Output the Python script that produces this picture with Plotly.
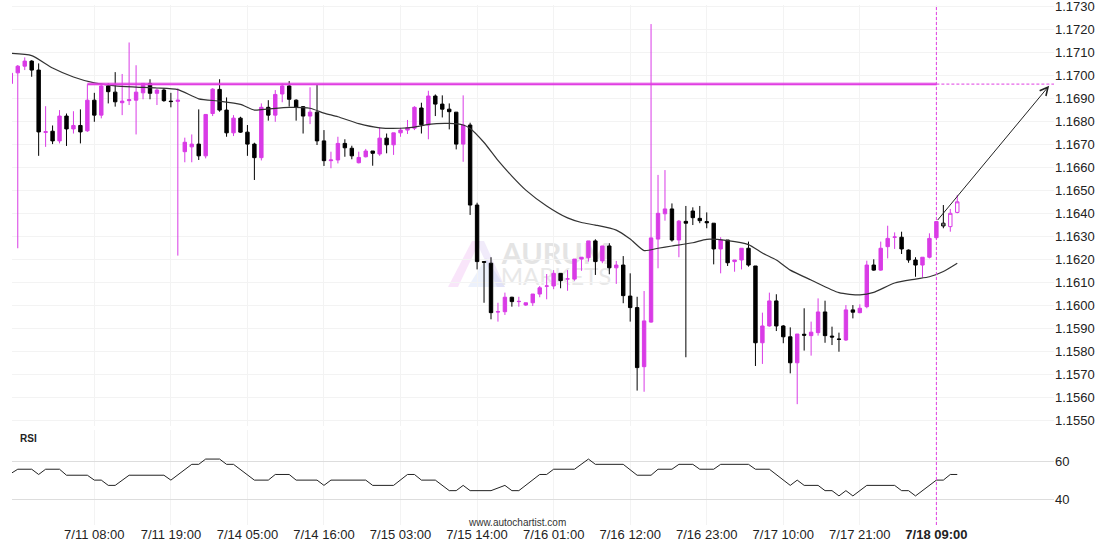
import plotly.graph_objects as go
from plotly.subplots import make_subplots

# ---------------- data ----------------
opens = [
    1.16965, 1.17011, 1.17040, 1.17062, 1.17023, 1.16752, 1.16757, 1.16715, 1.16823, 1.16767,
    1.16782, 1.16759, 1.16892, 1.16827, 1.16954, 1.16927, 1.16881, 1.16890, 1.16892, 1.16924,
    1.16965, 1.16922, 1.16936, 1.16888, 1.16887, 1.16668, 1.16689, 1.16701, 1.16650, 1.16834,
    1.16939, 1.16849, 1.16750, 1.16814, 1.16753, 1.16701, 1.16642, 1.16861, 1.16827, 1.16919,
    1.16954, 1.16892, 1.16864, 1.16823, 1.16840, 1.16715, 1.16629, 1.16632, 1.16704, 1.16683,
    1.16620, 1.16646, 1.16671, 1.16658, 1.16727, 1.16698, 1.16750, 1.16762, 1.16770, 1.16858,
    1.16784, 1.16910, 1.16875, 1.16853, 1.16840, 1.16701, 1.16784, 1.16436, 1.16190, 1.16183,
    1.15971, 1.15972, 1.16035, 1.16016, 1.16001, 1.16011, 1.16049, 1.16083, 1.16084, 1.16139,
    1.16114, 1.16114, 1.16201, 1.16207, 1.16280, 1.16193, 1.16258, 1.16163, 1.16175, 1.16040,
    1.15990, 1.15733, 1.15927, 1.16288, 1.16398, 1.16419, 1.16284, 1.16365, 1.16410, 1.16378,
    1.16364, 1.16357, 1.16245, 1.16284, 1.16190, 1.16197, 1.16248, 1.16171, 1.15837, 1.15910,
    1.16019, 1.15910, 1.15863, 1.15750, 1.15874, 1.15868, 1.15881, 1.15971, 1.15866, 1.15853,
    1.15849, 1.15980, 1.15968, 1.15994, 1.16175, 1.16153, 1.16255, 1.16296, 1.16296, 1.16240,
    1.16197, 1.16175, 1.16209, 1.16294, 1.16357, 1.16342, 1.16404,
]
highs = [
    1.17010, 1.17045, 1.17078, 1.17066, 1.17052, 1.16866, 1.16782, 1.16849, 1.16834, 1.16844,
    1.16852, 1.16961, 1.16924, 1.16965, 1.16965, 1.17014, 1.17006, 1.17143, 1.17044, 1.16965,
    1.16983, 1.16944, 1.16944, 1.16924, 1.16944, 1.16729, 1.16743, 1.16852, 1.16830, 1.16944,
    1.16983, 1.16904, 1.16827, 1.16820, 1.16784, 1.16707, 1.16878, 1.16892, 1.16936, 1.16965,
    1.16975, 1.16896, 1.16866, 1.16948, 1.16958, 1.16762, 1.16668, 1.16733, 1.16722, 1.16694,
    1.16668, 1.16680, 1.16671, 1.16774, 1.16747, 1.16750, 1.16772, 1.16806, 1.16866, 1.16881,
    1.16933, 1.16917, 1.16913, 1.16878, 1.16840, 1.16913, 1.16794, 1.16446, 1.16190, 1.16209,
    1.16011, 1.16055, 1.16037, 1.16037, 1.16011, 1.16049, 1.16084, 1.16136, 1.16153, 1.16139,
    1.16153, 1.16201, 1.16209, 1.16280, 1.16287, 1.16258, 1.16270, 1.16193, 1.16214, 1.16139,
    1.16037, 1.16062, 1.17223, 1.16567, 1.16588, 1.16443, 1.16371, 1.16432, 1.16426, 1.16432,
    1.16404, 1.16357, 1.16296, 1.16284, 1.16197, 1.16248, 1.16277, 1.16171, 1.15968, 1.16055,
    1.16048, 1.15914, 1.15904, 1.15875, 1.15987, 1.15929, 1.16030, 1.16020, 1.15907, 1.15881,
    1.16001, 1.16001, 1.16004, 1.16194, 1.16200, 1.16277, 1.16346, 1.16317, 1.16320, 1.16243,
    1.16209, 1.16209, 1.16313, 1.16364, 1.16436, 1.16419, 1.16480,
]
lows = [
    1.16962, 1.16248, 1.17023, 1.16994, 1.16650, 1.16689, 1.16701, 1.16704, 1.16693, 1.16747,
    1.16704, 1.16754, 1.16798, 1.16813, 1.16878, 1.16864, 1.16827, 1.16871, 1.16743, 1.16896,
    1.16896, 1.16871, 1.16885, 1.16861, 1.16216, 1.16622, 1.16622, 1.16632, 1.16639, 1.16823,
    1.16842, 1.16733, 1.16736, 1.16750, 1.16650, 1.16545, 1.16630, 1.16803, 1.16798, 1.16883,
    1.16864, 1.16803, 1.16747, 1.16788, 1.16697, 1.16606, 1.16596, 1.16617, 1.16646, 1.16635,
    1.16617, 1.16643, 1.16607, 1.16650, 1.16661, 1.16654, 1.16733, 1.16745, 1.16762, 1.16747,
    1.16722, 1.16823, 1.16817, 1.16765, 1.16678, 1.16624, 1.16393, 1.16156, 1.16011, 1.15939,
    1.15929, 1.15958, 1.15994, 1.15994, 1.15997, 1.15997, 1.16035, 1.16026, 1.16070, 1.16074,
    1.16063, 1.16107, 1.16150, 1.16190, 1.16132, 1.16183, 1.16135, 1.16093, 1.16009, 1.15929,
    1.15629, 1.15624, 1.15924, 1.16161, 1.16368, 1.16277, 1.16209, 1.15774, 1.16349, 1.16357,
    1.16335, 1.16178, 1.16139, 1.16171, 1.16146, 1.16156, 1.16168, 1.15736, 1.15745, 1.15907,
    1.15888, 1.15835, 1.15704, 1.15570, 1.15803, 1.15781, 1.15868, 1.15837, 1.15827, 1.15798,
    1.15845, 1.15943, 1.15965, 1.15987, 1.16150, 1.16150, 1.16204, 1.16245, 1.16223, 1.16185,
    1.16124, 1.16121, 1.16204, 1.16287, 1.16335, 1.16320, 1.16400,
]
closes = [
    1.17009, 1.17040, 1.17062, 1.17023, 1.16754, 1.16755, 1.16715, 1.16823, 1.16767, 1.16782,
    1.16754, 1.16892, 1.16827, 1.16954, 1.16929, 1.16885, 1.16888, 1.16894, 1.16927, 1.16965,
    1.16922, 1.16936, 1.16890, 1.16886, 1.16892, 1.16709, 1.16701, 1.16650, 1.16830, 1.16940,
    1.16849, 1.16750, 1.16814, 1.16753, 1.16701, 1.16642, 1.16861, 1.16827, 1.16917, 1.16954,
    1.16896, 1.16861, 1.16823, 1.16840, 1.16715, 1.16629, 1.16632, 1.16704, 1.16685, 1.16650,
    1.16643, 1.16671, 1.16661, 1.16727, 1.16698, 1.16750, 1.16762, 1.16772, 1.16861, 1.16785,
    1.16910, 1.16875, 1.16853, 1.16842, 1.16701, 1.16784, 1.16436, 1.16190, 1.16187, 1.15968,
    1.15972, 1.16035, 1.16016, 1.16017, 1.16011, 1.16049, 1.16076, 1.16084, 1.16139, 1.16107,
    1.16115, 1.16201, 1.16209, 1.16280, 1.16190, 1.16258, 1.16163, 1.16175, 1.16042, 1.15990,
    1.15729, 1.15932, 1.16293, 1.16400, 1.16419, 1.16284, 1.16366, 1.16357, 1.16381, 1.16368,
    1.16359, 1.16245, 1.16284, 1.16185, 1.16197, 1.16248, 1.16175, 1.15837, 1.15910, 1.16019,
    1.15910, 1.15863, 1.15750, 1.15875, 1.15870, 1.15883, 1.15971, 1.15868, 1.15862, 1.15852,
    1.15980, 1.15970, 1.15987, 1.16175, 1.16153, 1.16248, 1.16291, 1.16297, 1.16245, 1.16197,
    1.16175, 1.16209, 1.16291, 1.16364, 1.16345, 1.16400, 1.16450,
]

# moving average, read at selected candles
ma_idx = [0, 3, 6, 9, 12, 15, 18, 21, 24, 27, 30, 33, 35, 37, 40, 43, 45, 47, 50, 53,
          56, 58, 60, 63, 65, 66, 68, 70, 72, 74, 77, 80, 82, 84, 87, 89, 91, 93, 95, 98,
          100, 103, 106, 108, 110, 112, 115, 119, 122, 124, 127, 130, 132, 134, 136]
ma_val = [1.17096, 1.17086, 1.17032, 1.16993, 1.16967, 1.16954, 1.16949, 1.16945, 1.16938, 1.16898,
          1.16888, 1.16874, 1.16849, 1.16854, 1.16861, 1.16857, 1.16836, 1.16820, 1.16790, 1.16772,
          1.16770, 1.16775, 1.16787, 1.16791, 1.16784, 1.16769, 1.16708, 1.16630, 1.16562, 1.16501,
          1.16432, 1.16380, 1.16360, 1.16349, 1.16327, 1.16288, 1.16238, 1.16248, 1.16258, 1.16272,
          1.16287, 1.16281, 1.16264, 1.16227, 1.16197, 1.16153, 1.16110, 1.16055, 1.16045, 1.16056,
          1.16097, 1.16114, 1.16124, 1.16147, 1.16183]

# RSI, read at selected candles
rsi_idx = [0, 1, 3, 4, 5, 7, 8, 11, 12, 13, 14, 15, 17, 22, 23, 26, 27, 28, 30, 31,
           32, 35, 37, 38, 40, 41, 44, 45, 46, 51, 52, 55, 57, 58, 59, 61, 63, 64, 65, 66,
           69, 71, 72, 73, 76, 77, 78, 81, 83, 84, 88, 90, 92, 93, 95, 96, 98, 99, 101, 102,
           106, 107, 109, 112, 113, 114, 116, 117, 118, 119, 120, 121, 123, 127, 128, 129, 130,
           133, 134, 135, 136]
rsi_val = [53.7, 56, 56, 53.2, 56, 56, 52.8, 52.8, 50.2, 50.2, 47.4, 47.4, 52.8, 52.8, 50.2,
           58.6, 58.6, 61.4, 61.4, 58.6, 58.6, 50.2, 50.2, 53.2, 53.2, 50.2, 50.2, 47.4, 50.2,
           50.2, 47.4, 47.4, 53.2, 53.2, 50.2, 50.2, 44.6, 44.6, 47.4, 44.6, 44.6, 47.4, 44.6,
           44.6, 53.2, 53.2, 56, 56, 61.4, 58.6, 58.6, 52.8, 52.8, 56, 56, 58.6, 58.6, 56, 56,
           58.6, 58.6, 56, 56, 47.4, 50.2, 47.4, 47.4, 44.6, 44.6, 41.8, 44.6, 41.8, 47.4, 47.4,
           44.6, 44.6, 41.8, 50.2, 50.2, 53.2, 53.2]

tick_idx = [12, 23, 34, 45, 56, 67, 78, 89, 100, 111, 122, 133]
tick_labels = ["7/11 08:00", "7/11 19:00", "7/14 05:00", "7/14 16:00", "7/15 03:00",
               "7/15 14:00", "7/16 01:00", "7/16 12:00", "7/16 23:00", "7/17 10:00",
               "7/17 21:00", "<b>7/18 09:00</b>"]
price_ticks = [round(1.1550 + 0.001 * i, 4) for i in range(19)]
rsi_ticks = [40, 60]

level_price = 1.16962      # resistance level
level_start = 11           # first touching candle
pattern_end = 133          # candle where the pattern was identified
target_idx = 149.2
target_price = 1.16955

# ---------------- figure ----------------
BULL = "#d93be6"
BEAR = "#000000"
LEVEL = "#e03ee2"

W, H = 1110, 550
ML, MR, MT, MB = 12, 56, 5, 25
PW, PH = W - ML - MR, H - MT - MB

def px_x(p):
    return (p - ML) / PW

def px_y(p):
    return (H - MB - p) / PH

idx = list(range(len(opens)))
n_solid = pattern_end + 1

fig = make_subplots(rows=2, cols=1, shared_xaxes=True, vertical_spacing=0.01)

fig.add_trace(go.Candlestick(
    x=idx[:n_solid], open=opens[:n_solid], high=highs[:n_solid],
    low=lows[:n_solid], close=closes[:n_solid],
    increasing=dict(line=dict(color=BULL, width=1), fillcolor=BULL),
    decreasing=dict(line=dict(color=BEAR, width=1), fillcolor=BEAR),
    whiskerwidth=0, showlegend=False, hoverinfo="skip"), row=1, col=1)

fig.add_trace(go.Candlestick(
    x=idx[n_solid:], open=opens[n_solid:], high=highs[n_solid:],
    low=lows[n_solid:], close=closes[n_solid:],
    increasing=dict(line=dict(color=BULL, width=1), fillcolor="white"),
    decreasing=dict(line=dict(color=BEAR, width=1), fillcolor="white"),
    whiskerwidth=0, showlegend=False, hoverinfo="skip"), row=1, col=1)

fig.add_trace(go.Scatter(x=ma_idx, y=ma_val, mode="lines",
                         line=dict(color="#333333", width=1.2, shape="spline", smoothing=0.6),
                         showlegend=False, hoverinfo="skip"), row=1, col=1)

# resistance level (halo + core), then dashed projection
fig.add_trace(go.Scatter(x=[level_start, pattern_end], y=[level_price, level_price], mode="lines",
                         line=dict(color="rgba(226,62,226,0.3)", width=4),
                         showlegend=False, hoverinfo="skip"), row=1, col=1)
fig.add_trace(go.Scatter(x=[level_start, pattern_end], y=[level_price, level_price], mode="lines",
                         line=dict(color=LEVEL, width=1.6),
                         showlegend=False, hoverinfo="skip"), row=1, col=1)
fig.add_trace(go.Scatter(x=[pattern_end, 155], y=[level_price, level_price], mode="lines",
                         line=dict(color=LEVEL, width=1, dash="3px,2px"),
                         showlegend=False, hoverinfo="skip"), row=1, col=1)

fig.add_trace(go.Scatter(x=rsi_idx, y=rsi_val, mode="lines",
                         line=dict(color="#222222", width=1),
                         showlegend=False, hoverinfo="skip"), row=2, col=1)

# vertical dashed marker
fig.add_shape(type="line", xref="x", yref="paper", x0=pattern_end, x1=pattern_end, y0=0, y1=1,
              line=dict(color=LEVEL, width=1, dash="3px,2px"))

# arrow to target
fig.add_annotation(x=target_idx, y=target_price, ax=pattern_end, ay=closes[pattern_end],
                   xref="x", yref="y", axref="x", ayref="y", text="", showarrow=True,
                   arrowhead=5, arrowsize=1.6, arrowwidth=1, arrowcolor="#222222", standoff=0)

# watermark
for pts, col in [
    ([(448, 287), (472, 241), (480, 241), (458, 287)], "rgba(235,170,240,0.30)"),
    ([(476, 241), (484, 241), (505, 287), (497, 287)], "rgba(210,190,240,0.30)"),
    ([(468, 287), (486, 258), (505, 287)], "rgba(180,200,245,0.25)"),
]:
    path = "M " + " L ".join(f"{px_x(a):.4f},{px_y(b):.4f}" for a, b in pts) + " Z"
    fig.add_shape(type="path", path=path, xref="paper", yref="paper",
                  fillcolor=col, line=dict(width=0), layer="below")

fig.add_shape(type="rect", xref="paper", yref="paper", x0=px_x(500), x1=px_x(612),
              y0=px_y(263), y1=px_y(242), line=dict(width=0), fillcolor="rgba(0,0,0,0)",
              layer="below",
              label=dict(text="<b>AURUM</b>", font=dict(family="Lato", size=29, color="#e4e4e4"),
                         textposition="middle center"))
fig.add_shape(type="rect", xref="paper", yref="paper", x0=px_x(500), x1=px_x(612),
              y0=px_y(286), y1=px_y(265), line=dict(width=0), fillcolor="rgba(0,0,0,0)",
              layer="below",
              label=dict(text="MARKETS", font=dict(family="Lato", size=24, color="#e8e8e8"),
                         textposition="middle center"))

fig.add_annotation(x=px_x(18), y=px_y(438), xref="paper", yref="paper", text="<b>RSI</b>",
                   showarrow=False, xanchor="left", yanchor="middle",
                   font=dict(family="Liberation Sans", size=10, color="#222222"))
fig.add_annotation(x=px_x(517), y=px_y(522), xref="paper", yref="paper",
                   text="www.autochartist.com", showarrow=False, xanchor="center", yanchor="middle",
                   font=dict(family="Liberation Sans", size=10, color="#333333"))

GRID = "#f3f3f3"
xcommon = dict(range=[0.17, 149.9], tickmode="array", tickvals=tick_idx, ticktext=tick_labels,
               showgrid=True, gridcolor=GRID, gridwidth=1, zeroline=False, showline=False,
               ticks="", automargin=False, rangeslider=dict(visible=False))

fig.update_layout(
    width=W, height=H,
    margin=dict(l=ML, r=MR, t=MT, b=MB, autoexpand=False),
    paper_bgcolor="white", plot_bgcolor="white",
    font=dict(family="Liberation Sans", size=13, color="#222222"),
    showlegend=False,
    xaxis=dict(**xcommon, showticklabels=False),
    xaxis2=dict(**xcommon, showticklabels=True, tickfont=dict(size=13, color="#222222")),
    yaxis=dict(domain=[px_y(426), 1.0], range=[1.15475, 1.17306], side="right",
               tickmode="array", tickvals=price_ticks, tickformat=".4f", automargin=False,
               ticklabeloverflow="allow",
               showgrid=True, gridcolor=GRID, zeroline=False, showline=False, ticks=""),
    yaxis2=dict(domain=[0.0, px_y(430)], range=[26.33, 76.86], side="right",
                tickmode="array", tickvals=rsi_ticks, automargin=False,
                showgrid=True, gridcolor="#dddddd", zeroline=False, showline=False, ticks=""),
)

fig.write_html("out.html", config={"displayModeBar": False},
               post_script="document.body.style.margin='0px';document.body.style.padding='0px';")
